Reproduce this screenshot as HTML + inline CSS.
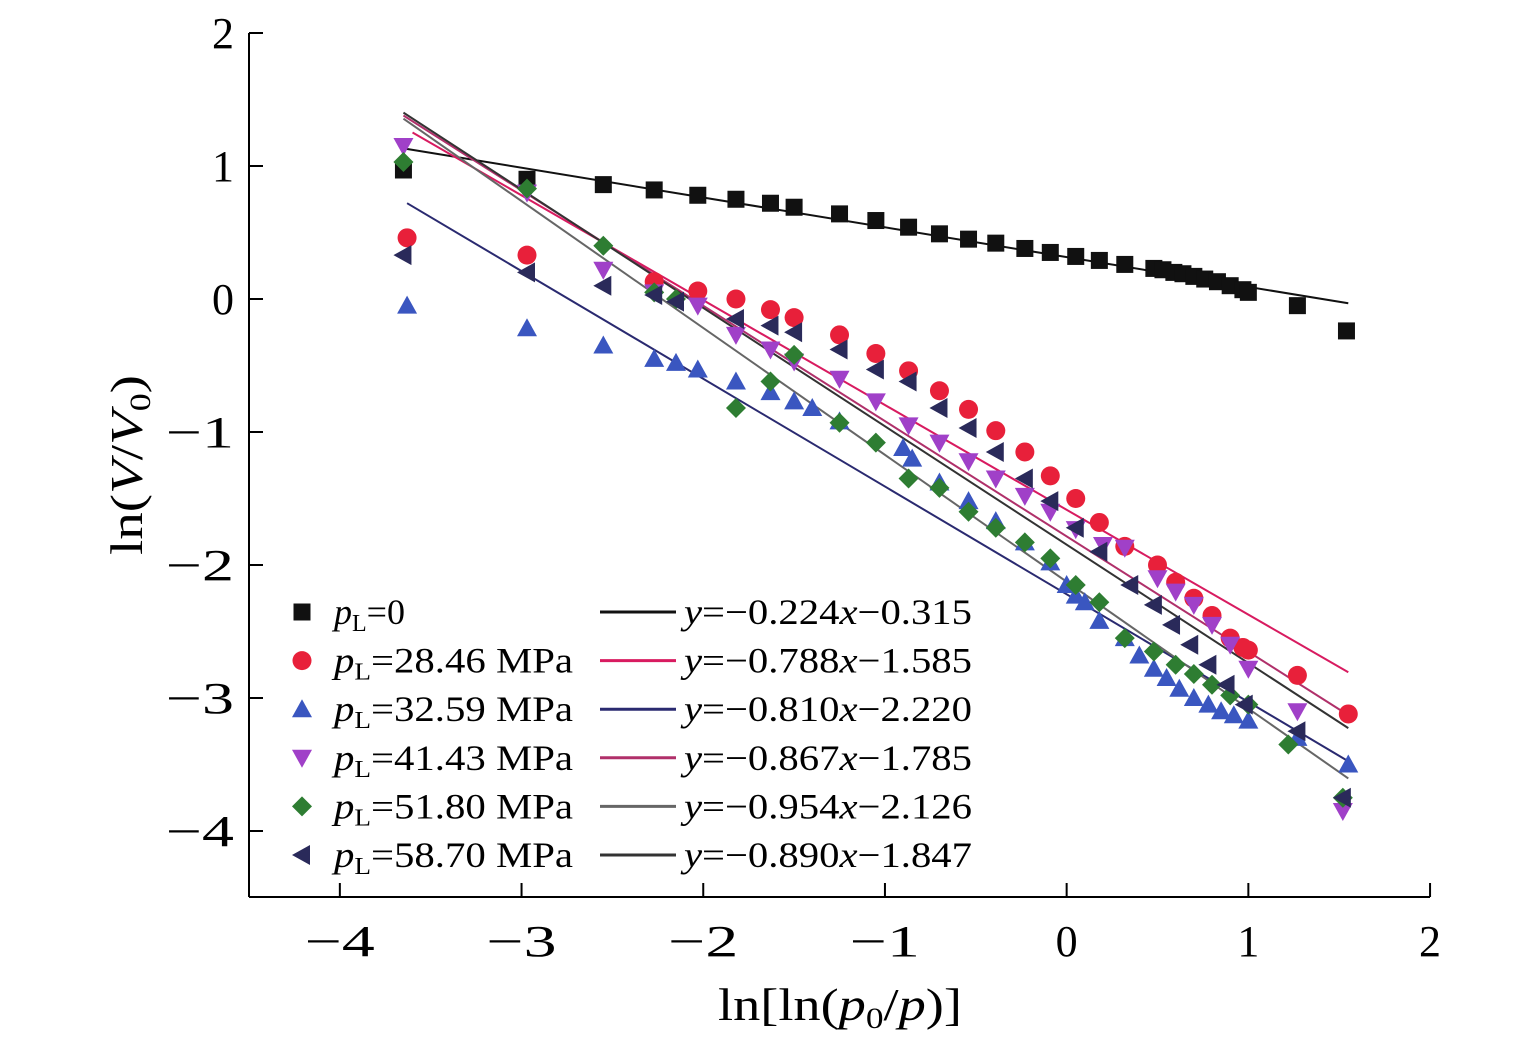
<!DOCTYPE html>
<html><head><meta charset="utf-8"><style>
html,body{margin:0;padding:0;background:#fff;}
svg{display:block;font-family:"Liberation Serif",serif;}
</style></head><body>
<svg id="chart" width="1535" height="1047" viewBox="0 0 1535 1047" xmlns="http://www.w3.org/2000/svg">
<g id="axes"></g>
<g id="lines"></g>
<g id="pts"></g>
<g id="legend"></g>
<text transform="translate(142,465) rotate(-90)" text-anchor="middle" font-size="46" textLength="180" lengthAdjust="spacingAndGlyphs">ln(<tspan font-style="italic">V</tspan>/<tspan font-style="italic">V</tspan><tspan font-size="30" dy="8">0</tspan><tspan dy="-8">)</tspan></text>
<text x="840" y="1020" text-anchor="middle" font-size="46" textLength="244" lengthAdjust="spacingAndGlyphs">ln[ln(<tspan font-style="italic">p</tspan><tspan font-size="30" dy="8">0</tspan><tspan dy="-8">/</tspan><tspan font-style="italic">p</tspan>)]</text>
</svg>
<script>
const xTicks=[-4,-3,-2,-1,0,1,2];
const yTicks=[2,1,0,-1,-2,-3,-4];
const sx=v=>249+(v+4.5)*181.7;
const sy=v=>299-v*133;
const NS="http://www.w3.org/2000/svg";
function mk(t,a,p){const e=document.createElementNS(NS,t);for(const k in a)e.setAttribute(k,a[k]);p.appendChild(e);return e;}

const sBlack=[[-3.65,0.97],[-2.97,0.9],[-2.55,0.86],[-2.27,0.82],[-2.03,0.78],[-1.82,0.75],[-1.63,0.72],[-1.5,0.69],[-1.25,0.64],[-1.05,0.59],[-0.87,0.54],[-0.7,0.49],[-0.54,0.45],[-0.39,0.42],[-0.23,0.38],[-0.09,0.35],[0.05,0.32],[0.18,0.29],[0.32,0.26],[0.48,0.23],[0.53,0.22],[0.59,0.2],[0.64,0.19],[0.7,0.17],[0.76,0.15],[0.83,0.13],[0.9,0.1],[0.97,0.07],[1.0,0.05],[1.27,-0.05],[1.54,-0.24]];
const sRed=[[-3.63,0.46],[-2.97,0.33],[-2.27,0.13],[-2.03,0.06],[-1.82,0.0],[-1.63,-0.08],[-1.5,-0.14],[-1.25,-0.27],[-1.05,-0.41],[-0.87,-0.54],[-0.7,-0.69],[-0.54,-0.83],[-0.39,-0.99],[-0.23,-1.15],[-0.09,-1.33],[0.05,-1.5],[0.18,-1.68],[0.32,-1.86],[0.5,-2.0],[0.6,-2.13],[0.7,-2.25],[0.8,-2.38],[0.9,-2.55],[0.97,-2.62],[1.0,-2.64],[1.27,-2.83],[1.55,-3.12]];
const sBlue=[[-3.63,-0.05],[-2.97,-0.22],[-2.55,-0.35],[-2.27,-0.45],[-2.15,-0.48],[-2.03,-0.53],[-1.82,-0.62],[-1.63,-0.7],[-1.5,-0.77],[-1.4,-0.82],[-1.25,-0.92],[-0.9,-1.12],[-0.85,-1.2],[-0.7,-1.38],[-0.54,-1.52],[-0.39,-1.67],[-0.23,-1.83],[-0.09,-1.98],[0.0,-2.15],[0.05,-2.23],[0.1,-2.28],[0.18,-2.42],[0.32,-2.55],[0.4,-2.68],[0.48,-2.78],[0.55,-2.85],[0.62,-2.93],[0.7,-3.0],[0.78,-3.05],[0.85,-3.1],[0.92,-3.13],[1.0,-3.17],[1.27,-3.3],[1.55,-3.5]];
const sPurple=[[-3.65,1.15],[-2.97,0.8],[-2.55,0.22],[-2.27,0.05],[-2.03,-0.05],[-1.82,-0.27],[-1.63,-0.38],[-1.5,-0.47],[-1.25,-0.6],[-1.05,-0.77],[-0.87,-0.95],[-0.7,-1.08],[-0.54,-1.22],[-0.39,-1.35],[-0.23,-1.48],[-0.09,-1.6],[0.05,-1.73],[0.2,-1.85],[0.32,-1.87],[0.5,-2.1],[0.6,-2.2],[0.7,-2.3],[0.8,-2.45],[0.9,-2.6],[1.0,-2.78],[1.27,-3.1],[1.52,-3.85]];
const sGreen=[[-3.65,1.03],[-2.97,0.83],[-2.55,0.4],[-2.27,0.05],[-2.15,0.0],[-1.82,-0.82],[-1.63,-0.62],[-1.5,-0.42],[-1.25,-0.93],[-1.05,-1.08],[-0.87,-1.35],[-0.7,-1.42],[-0.54,-1.6],[-0.39,-1.72],[-0.23,-1.83],[-0.09,-1.95],[0.05,-2.15],[0.18,-2.28],[0.32,-2.55],[0.48,-2.65],[0.6,-2.75],[0.7,-2.82],[0.8,-2.9],[0.9,-2.98],[1.0,-3.05],[1.22,-3.35],[1.52,-3.75]];
const sNavy=[[-3.65,0.33],[-2.97,0.2],[-2.55,0.1],[-2.27,0.03],[-2.15,-0.02],[-1.82,-0.15],[-1.63,-0.2],[-1.5,-0.25],[-1.25,-0.38],[-1.05,-0.53],[-0.87,-0.62],[-0.7,-0.82],[-0.54,-0.97],[-0.39,-1.15],[-0.23,-1.35],[-0.09,-1.52],[0.05,-1.72],[0.18,-1.9],[0.35,-2.15],[0.48,-2.3],[0.58,-2.45],[0.68,-2.6],[0.78,-2.75],[0.88,-2.9],[0.98,-3.05],[1.27,-3.25],[1.52,-3.75]];
const slopes=[-0.224,-0.788,-0.810,-0.867,-0.954,-0.890];
const intercepts=[0.315,-1.585,-2.220,-1.785,-2.126,-1.847];
const lineStarts=[-3.65,-3.6,-3.63,-3.65,-3.65,-3.65];
const lineEnd=1.55;
const labels=["=0","=28.46 MPa","=32.59 MPa","=41.43 MPa","=51.80 MPa","=58.70 MPa"];
const eqs=["0.224","0.315","0.788","1.585","0.810","2.220","0.867","1.785","0.954","2.126","0.890","1.847"];

const series=[sBlack,sRed,sBlue,sPurple,sGreen,sNavy];
const colors=["#111","#e8203a","#3a56c0","#a040c8","#2e7d32","#2a2a5a"];
const lineColors=["#111","#d81b60","#2a2a70","#b0306a","#666","#333"];
const shapes=["sq","ci","tu","td","di","tl"];
const names=["p0","p2846","p3259","p4143","p5180","p5870"];

const ax=document.getElementById('axes');
let e=mk('line',{x1:249,y1:33,x2:249,y2:897,stroke:'#000','stroke-width':2},ax);


e=mk('line',{x1:249,y1:897,x2:1430,y2:897,stroke:'#000','stroke-width':2},ax);


xTicks.forEach(v=>{mk('line',{x1:sx(v),y1:883,x2:sx(v),y2:897,stroke:'#000','stroke-width':2},ax);
 const neg=v<0;
 const a={x:sx(v),y:956,'text-anchor':'middle','font-size':44};
 if(neg){a.textLength=70;a.lengthAdjust='spacingAndGlyphs';}
 const t=mk('text',a,ax);t.textContent=neg?'\u2212'+(-v):v;
 
 });
yTicks.forEach(v=>{mk('line',{x1:249,y1:sy(v),x2:263,y2:sy(v),stroke:'#000','stroke-width':2},ax);
 const neg=v<0;
 const a={x:234,y:sy(v)+15,'text-anchor':'end','font-size':44};
 if(neg){a.textLength=68;a.lengthAdjust='spacingAndGlyphs';}
 const t=mk('text',a,ax);t.textContent=neg?'\u2212'+(-v):v;
 
 });

function marker(s,x,y,c,p){const r=10;let el;
 if(s=='sq')el=mk('rect',{x:x-8.5,y:y-8.5,width:17,height:17,fill:c},p);
 else if(s=='ci')el=mk('circle',{cx:x,cy:y,r:9.5,fill:c},p);
 else if(s=='tu')el=mk('polygon',{points:`${x},${y-r} ${x-r},${y+r*0.8} ${x+r},${y+r*0.8}`,fill:c},p);
 else if(s=='td')el=mk('polygon',{points:`${x},${y+r} ${x-r},${y-r*0.8} ${x+r},${y-r*0.8}`,fill:c},p);
 else if(s=='di')el=mk('polygon',{points:`${x},${y-r} ${x+r},${y} ${x},${y+r} ${x-r},${y}`,fill:c},p);
 else el=mk('polygon',{points:`${x-r},${y} ${x+r*0.8},${y-r} ${x+r*0.8},${y+r}`,fill:c},p);
 return el;}

const lg=document.getElementById('lines');
slopes.forEach((m,i)=>{const b=intercepts[i];const x0=lineStarts[i];
 const l=mk('line',{x1:sx(x0),y1:sy(m*x0+b),x2:sx(lineEnd),y2:sy(m*lineEnd+b),stroke:lineColors[i],'stroke-width':2},lg);
 
 });

const pg=document.getElementById('pts');
series.forEach((s,i)=>s.forEach(d=>{const el=marker(shapes[i],sx(d[0]),sy(d[1]),colors[i],pg);
 
 }));

const L=document.getElementById('legend');
labels.forEach((lab,i)=>{const y=612+i*48.6;
 const m=marker(shapes[i],302,y,colors[i],L);
 
 
 const a={x:334,y:y+12,'font-size':36};
 if(i>0){a.textLength=239;a.lengthAdjust='spacingAndGlyphs';}
 const t=mk('text',a,L);
 t.innerHTML='<tspan font-style="italic">p</tspan><tspan font-size="24" dy="7">L</tspan><tspan dy="-7">'+lab+'</tspan>';
 
 
 const ln=mk('line',{x1:600,y1:y,x2:676,y2:y,stroke:lineColors[i],'stroke-width':3},L);
 
 
 const q=mk('text',{x:684,y:y+12,'font-size':36,textLength:288,lengthAdjust:'spacingAndGlyphs'},L);
 q.innerHTML='<tspan font-style="italic">y</tspan>=\u2212'+eqs[2*i]+'<tspan font-style="italic">x</tspan>\u2212'+eqs[2*i+1];
 
 });
</script>
</body></html>
